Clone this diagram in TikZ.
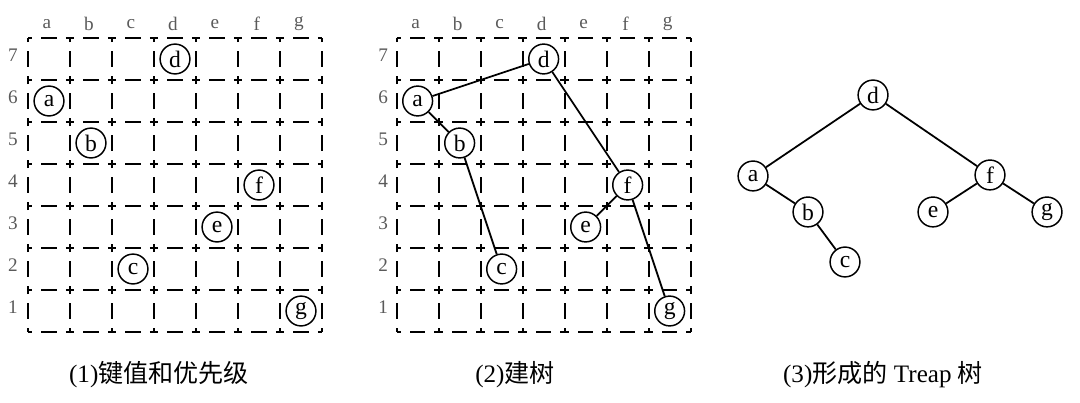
\documentclass[tikz,border=0pt]{standalone}
\usepackage{fontspec}
\setmainfont{Liberation Serif}
\newfontfamily\cjk{Noto Sans CJK SC}
\usetikzlibrary{positioning}
\definecolor{labelgray}{HTML}{5A5A5A}

\begin{document}
\begin{tikzpicture}[
      keynode/.style={draw,circle,line width=1pt,fill=white,minimum size=0.71cm,inner sep=0pt,font=\fontsize{16}{16}\selectfont},
      cellline/.style={line width=1.4pt,dash pattern=on 0.2cm off 0.22cm on 0.36cm off 0.22cm,dash phase=0.1cm},
      edge/.style={line width=1.2pt},
      axislabel/.style={text=labelgray,font=\fontsize{13}{13}\selectfont},
      caption/.style={font=\fontsize{17}{17}\selectfont}
    ]
      \useasboundingbox (0,0) rectangle (25.714,9.595);
      % (1) keys and priorities
      \begin{scope}[shift={(0.667,1.690)}]
        \draw[cellline] (0,0) grid (7,7);
        \foreach \k [count=\i] in {a,b,c,d,e,f,g}
          \node[axislabel] (colk\k) at (\i-0.55,7.33) {\k};
        \foreach \r in {1,...,7}
          \node[axislabel] (rowk\r) at (-0.36,\r-0.42) {\r};
        \node[keynode] (a1) at (0.5,5.5) {a};
        \node[keynode] (b1) at (1.5,4.5) {b};
        \node[keynode] (c1) at (2.5,1.5) {c};
        \node[keynode] (d1) at (3.5,6.5) {d};
        \node[keynode] (e1) at (4.5,2.5) {e};
        \node[keynode] (f1) at (5.5,3.5) {f};
        \node[keynode] (g1) at (6.5,0.5) {g};
      \end{scope}
      % (2) building the tree
      \begin{scope}[shift={(9.444,1.690)}]
        \draw[cellline] (0,0) grid (7,7);
        \foreach \k [count=\i] in {a,b,c,d,e,f,g}
          \node[axislabel] (colb\k) at (\i-0.55,7.33) {\k};
        \foreach \r in {1,...,7}
          \node[axislabel] (rowb\r) at (-0.32,\r-0.42) {\r};
        \node[keynode] (a2) at (0.5,5.5) {a};
        \node[keynode] (b2) at (1.5,4.5) {b};
        \node[keynode] (c2) at (2.5,1.5) {c};
        \node[keynode] (d2) at (3.5,6.5) {d};
        \node[keynode] (e2) at (4.5,2.5) {e};
        \node[keynode] (f2) at (5.5,3.5) {f};
        \node[keynode] (g2) at (6.5,0.5) {g};
      \end{scope}
      \draw[edge] (d2)--(a2);
      \draw[edge] (a2)--(b2);
      \draw[edge] (b2)--(c2);
      \draw[edge] (d2)--(f2);
      \draw[edge] (f2)--(e2);
      \draw[edge] (f2)--(g2);
      % (3) the resulting treap
      \node[keynode] (d3) at (20.786,7.333) {d};
      \node[keynode] (a3) at (17.929,5.405) {a};
      \node[keynode] (f3) at (23.571,5.429) {f};
      \node[keynode] (b3) at (19.238,4.548) {b};
      \node[keynode] (e3) at (22.214,4.548) {e};
      \node[keynode] (g3) at (24.929,4.548) {g};
      \node[keynode] (c3) at (20.119,3.357) {c};
      \draw[edge] (d3)--(a3);
      \draw[edge] (a3)--(b3);
      \draw[edge] (b3)--(c3);
      \draw[edge] (d3)--(f3);
      \draw[edge] (f3)--(e3);
      \draw[edge] (f3)--(g3);
      % captions
      \node[caption] (cap1) at (3.786,0.667) {(1){\cjk 键值和优先级}};
      \node[caption] (cap2) at (12.262,0.667) {(2){\cjk 建树}};
      \node[caption] (cap3) at (21.024,0.667) {(3){\cjk 形成的} Treap {\cjk 树}};
    \end{tikzpicture}
\end{document}
